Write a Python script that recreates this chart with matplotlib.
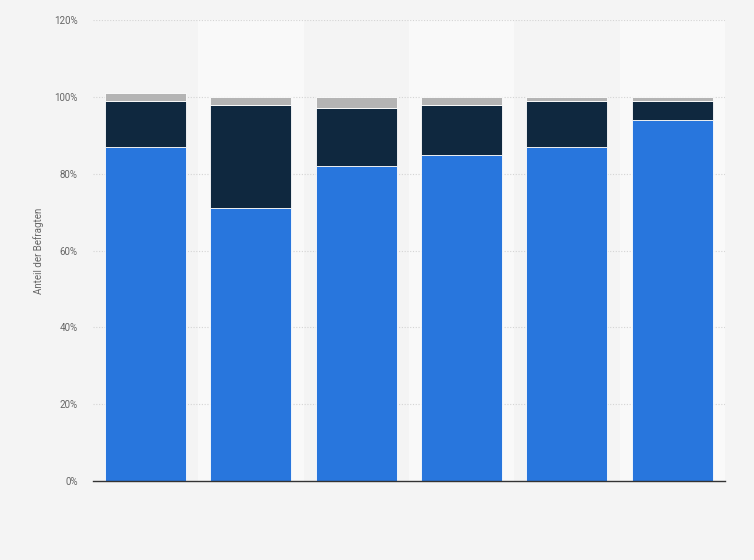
import numpy as np
import matplotlib.pyplot as plt

plt.rcParams["font.family"] = ["Roboto", "DejaVu Sans"]

# values in percent
categories = ["1", "2", "3", "4", "5", "6"]
series_blue = [87, 71, 82, 85, 87, 94]
series_navy = [12, 27, 15, 13, 12, 5]
series_gray = [2, 2, 3, 2, 1, 1]
y_ticks = [0, 20, 40, 60, 80, 100, 120]

fig = plt.figure(figsize=(7.54, 5.60), dpi=100)
fig.patch.set_facecolor("#f4f4f4")
ax = fig.add_axes([0.1233, 0.141, 0.838, 0.823])
ax.set_facecolor("#f4f4f4")

x = np.arange(len(categories))

# alternating column bands
for i in x:
    if i % 2 == 1:
        ax.axvspan(i - 0.5, i + 0.5, color="#f9f9f9", zorder=0, lw=0)

for t in y_ticks[1:]:
    ax.axhline(t, color="#d4d4d4", lw=0.8, ls=(0, (1, 1.5)), zorder=1)

blue = np.array(series_blue)
navy = np.array(series_navy)
gray = np.array(series_gray)
w = 0.77
ax.bar(x, blue, width=w, color="#2876dd", edgecolor="white", lw=0.6, zorder=3)
ax.bar(x, navy, width=w, bottom=blue, color="#0f283f", edgecolor="white", lw=0.6, zorder=3)
ax.bar(x, gray, width=w, bottom=blue + navy, color="#b4b4b4", edgecolor="white", lw=0.6, zorder=3)

ax.set_xlim(-0.5, len(categories) - 0.5)
ax.set_ylim(0, 120)
ax.set_xticks([])
ax.set_yticks(y_ticks)
ax.set_yticklabels([f"{t}%" for t in y_ticks], fontsize=7, color="#666666")
ax.tick_params(axis="y", length=0, pad=11)

for s in ["top", "right", "left"]:
    ax.spines[s].set_visible(False)
ax.spines["bottom"].set_color("#333333")
ax.spines["bottom"].set_linewidth(1.0)
ax.spines["bottom"].set_zorder(4)

ax.set_ylabel("Anteil der Befragten", fontsize=7, color="#666666", labelpad=7)

fig.savefig("out.png", dpi=100, facecolor=fig.get_facecolor())
